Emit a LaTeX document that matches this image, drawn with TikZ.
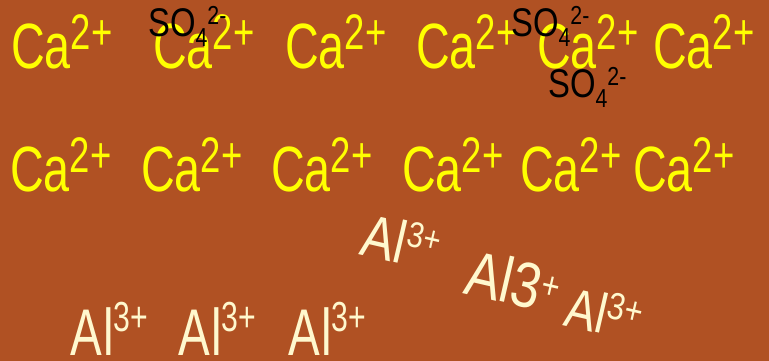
\documentclass[tikz,border=0pt]{standalone}
\usepackage{fontspec}
\setmainfont{Liberation Sans}
\usepackage{graphicx}
\definecolor{rustbg}{RGB}{176, 81, 35}
\definecolor{caYellow}{RGB}{255, 255, 0}
\definecolor{alCream}{RGB}{255, 248, 206}
\usetikzlibrary{positioning}

\newcommand{\calcium}{\scalebox{0.73}[1]{Ca\raisebox{19pt}{\fontsize{50}{50}\selectfont 2+}}}
\newcommand{\sulfate}{\scalebox{0.82}[1]{SO\raisebox{-10pt}{\fontsize{26}{26}\selectfont 4}\raisebox{12pt}{\fontsize{26}{26}\selectfont 2-}}}
\newcommand{\alupright}{\scalebox{0.72}[1]{A\hspace{2pt}l\raisebox{24pt}{\fontsize{42}{42}\selectfont 3+}}}
\newcommand{\altilted}[2]{\scalebox{0.82}[1]{Al\raisebox{#1}{\fontsize{#2}{#2}\selectfont 3+}}}

\tikzset{
  caion/.style={anchor=base west, inner sep=0pt, text=caYellow, font=\fontsize{64}{64}\selectfont},
  soion/.style={anchor=base west, inner sep=0pt, text=black, font=\fontsize{40}{40}\selectfont},
  alion/.style={anchor=base west, inner sep=0pt, text=alCream, font=\fontsize{66}{66}\selectfont},
  altilt/.style={anchor=base west, inner sep=0pt, text=alCream, rotate=-13, font=\fontsize{60}{60}\selectfont}
}

\begin{document}
\begin{tikzpicture}[x=1pt, y=-1pt]
  % background
  \fill[rustbg] (0,0) rectangle (769,361);
  \useasboundingbox (0,0) rectangle (769,361);

  % calcium, upper row
  \node[caion] (ca1) at (11, 69) {\calcium};
  \node[caion] (ca2) at (153, 69) {\calcium};
  \node[caion] (ca3) at (285, 69) {\calcium};
  \node[caion] (ca4) at (416, 69) {\calcium};
  \node[caion] (ca5) at (537, 69) {\calcium};
  \node[caion] (ca6) at (653, 69) {\calcium};

  % calcium, lower row
  \node[caion] (cb1) at (10, 191) {\calcium};
  \node[caion] (cb2) at (141, 191) {\calcium};
  \node[caion] (cb3) at (271, 191) {\calcium};
  \node[caion] (cb4) at (402, 191) {\calcium};
  \node[caion] (cb5) at (520, 191) {\calcium};
  \node[caion] (cb6) at (633, 191) {\calcium};

  % sulfate ions
  \node[soion] (so1) at (148, 37) {\sulfate};
  \node[soion] (so2) at (511, 37) {\sulfate};
  \node[soion] (so3) at (548, 97) {\sulfate};

  % aluminium, bottom row
  \node[alion] (al1) at (70, 355) {\alupright};
  \node[alion] (al2) at (178, 355) {\alupright};
  \node[alion] (al3) at (288, 355) {\alupright};

  % aluminium, tilted
  \node[altilt] (at1) at (358, 254) {\altilted{19pt}{36}};
  \node[altilt, font=\fontsize{64}{64}\selectfont] (at2) at (462, 293) {\scalebox{0.82}[1]{Al3\raisebox{14pt}{\fontsize{38}{38}\selectfont +}}};
  \node[altilt, font=\fontsize{56}{56}\selectfont] (at3) at (562, 325) {\altilted{17pt}{38}};
\end{tikzpicture}
\end{document}
